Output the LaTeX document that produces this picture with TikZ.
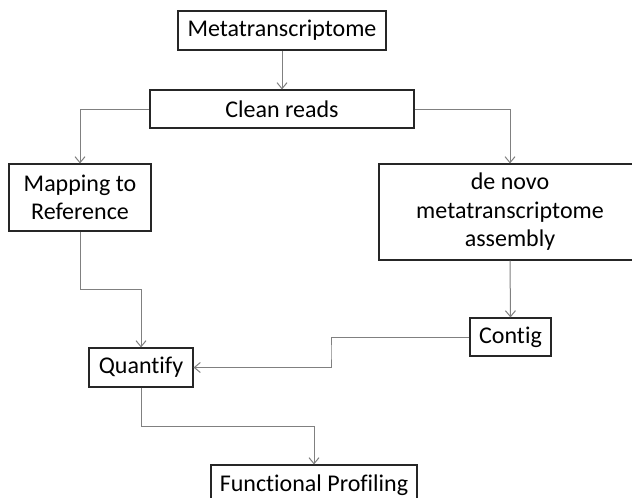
\documentclass[tikz,border=0pt]{standalone}
\usepackage{fontspec}
\setmainfont[Ligatures=NoCommon]{Carlito}
\usetikzlibrary{arrows.meta}
\begin{document}
\begin{tikzpicture}[x=1pt,y=-1pt,
  box/.style={draw=black!85,line width=1.1pt,inner sep=0pt,align=center,
    font=\fontsize{24}{28.5}\selectfont},
  conn/.style={draw=black!50,line width=1pt,
    -{Straight Barb[length=6pt,width=10pt,line width=1pt]}}]
\useasboundingbox (0,0) rectangle (632,498);

\node[box,minimum width=208pt,minimum height=39pt] (meta) at (282,30.5) {Metatranscriptome};
\node[box,minimum width=264pt,minimum height=38pt] (clean) at (282,109) {Clean reads};
\node[box,minimum width=142pt,minimum height=67pt] (map) at (80,197.5) {Mapping to\\Reference};
\node[box,minimum width=262pt,minimum height=96pt] (novo) at (510,212) {de novo\\metatranscriptome\\assembly};
\node[box,minimum width=81pt,minimum height=38pt] (contig) at (510.5,337) {Contig};
\node[box,minimum width=104pt,minimum height=39pt] (quant) at (141,367.5) {Quantify};
\node[box,minimum width=206pt,minimum height=40pt] (func) at (314,485) {Functional Profiling};

\coordinate (jog) at (331,352);

\draw[conn] (meta.south) -- (clean.north);
\draw[conn] (clean.west) -| (map.north);
\draw[conn] (clean.east) -| (novo.north);
\draw[conn] (map.south) -- ++(0,58) -| (quant.north);
\draw[conn] (novo.south) -- (contig.north);
\draw[conn] (contig.west) -| (jog) |- (quant.east);
\draw[conn] (quant.south) -- ++(0,39) -| (func.north);
\end{tikzpicture}
\end{document}
